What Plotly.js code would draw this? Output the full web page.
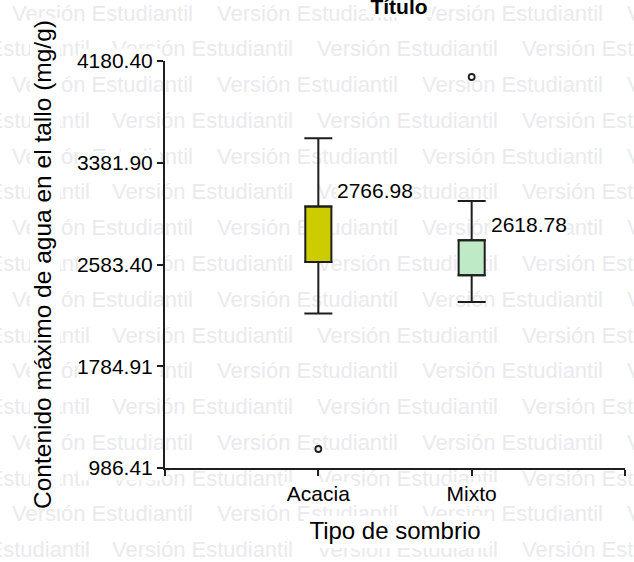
<!DOCTYPE html>
<html><head><meta charset="utf-8">
<script src="https://cdn.plot.ly/plotly-3.0.1.min.js"></script>
<style>html,body{margin:0;padding:0;background:#fff}#chart{width:634px;height:562px}</style>
</head><body><div id="chart"></div>
<script>
// ---- data ----
const categories = ['Acacia', 'Mixto'];
const lowerWhisker = [2197.9, 2289.0];
const q1 = [2603.0, 2498.8];
const median = [2766.98, 2618.78];
const q3 = [3039.5, 2773.1];
const upperWhisker = [3574.7, 3081.0];
const outliers = [[1135.4], [4055.0]];
const yTickVals = [986.41, 1784.91, 2583.40, 3381.90, 4180.40];
const yTickText = ['986.41', '1784.91', '2583.40', '3381.90', '4180.40'];
const titleText = 'Título';
const xTitle = 'Tipo de sombrio';
const yTitle = 'Contenido máximo de agua en el tallo (mg/g)';
const watermarkText = 'Versión Estudiantil';

// ---- styling ----
const boxColors = ['#cccc00', '#bfeac6'];
const FONT = 'Liberation Sans, Arial, sans-serif';
const INK = '#1e1e1e';
const W = 634, H = 562;
const plotL = 165, plotR = 625, plotT = 61, plotB = 468;

const xPos = categories.map((c, i) => i);
const xTickVals = [-1].concat(xPos, [categories.length]);
const xTickText = [''].concat(categories, ['']);

// watermark layout (decoration, pixel coordinates)
const wmX = [], wmY = [], wmT = [], wmP = [];
for (let k = 0; k < 16; k++) {
  const y = 15 + 35.78 * k;
  if (k % 2 === 1) { wmX.push(90); wmY.push(y); wmT.push(watermarkText); wmP.push('middle left'); }
  const starts = (k % 2 === 0) ? [12, 217, 422, 627] : [112, 317, 522];
  starts.forEach(x => { wmX.push(x); wmY.push(y); wmT.push(watermarkText); wmP.push('middle right'); });
}
// white areas behind labels (decoration, pixel coordinates)
const rects = [
  [30, 18, 60, 507],
  [366, 0, 432, 17],
  [285, 482, 354, 506], [448, 482, 499, 506],
  [304, 516, 490, 548]
];
[60.7, 163.3, 265, 366.7, 468.3].forEach(y => rects.push([78, y - 12, 160, y + 12]));
const rx = [], ry = [];
rects.forEach(r => { rx.push(r[0], r[2], r[2], r[0], r[0], null); ry.push(r[1], r[1], r[3], r[3], r[1], null); });

const traces = [
  { type: 'scatter', mode: 'text', x: wmX, y: wmY, text: wmT, textposition: wmP,
    textfont: { family: FONT, size: 22, color: '#eaeaee' }, xaxis: 'x', yaxis: 'y', hoverinfo: 'skip', cliponaxis: false },
  { type: 'scatter', mode: 'lines', x: rx, y: ry, fill: 'toself', fillcolor: '#ffffff',
    line: { width: 0, color: 'rgba(0,0,0,0)' }, xaxis: 'x', yaxis: 'y', hoverinfo: 'skip' },
  // boxes
  { type: 'bar', x: xPos, base: q1, y: q3.map((v, i) => v - q1[i]), width: 0.17,
    marker: { color: boxColors, line: { color: INK, width: 2 } }, xaxis: 'x2', yaxis: 'y2', hoverinfo: 'skip' },
  // upper whiskers
  { type: 'scatter', mode: 'markers', x: xPos, y: q3, marker: { size: 1, opacity: 0 },
    error_y: { type: 'data', symmetric: false, array: upperWhisker.map((v, i) => v - q3[i]), arrayminus: q3.map(() => 0),
      width: 14, thickness: 2, color: INK }, xaxis: 'x2', yaxis: 'y2', hoverinfo: 'skip' },
  // lower whiskers
  { type: 'scatter', mode: 'markers', x: xPos, y: q1, marker: { size: 1, opacity: 0 },
    error_y: { type: 'data', symmetric: false, array: q1.map(() => 0), arrayminus: lowerWhisker.map((v, i) => q1[i] - v),
      width: 14, thickness: 2, color: INK }, xaxis: 'x2', yaxis: 'y2', hoverinfo: 'skip' },
  // outliers
  { type: 'scatter', mode: 'markers',
    x: outliers.flatMap((arr, i) => arr.map(() => xPos[i])), y: outliers.flat(),
    marker: { symbol: 'circle-open', size: 6, color: INK, line: { width: 1.8, color: INK } },
    xaxis: 'x2', yaxis: 'y2', hoverinfo: 'skip' }
];

const annotations = xPos.map((x, i) => ({
  xref: 'x2', yref: 'y2', x: x, y: q3[i], text: median[i].toFixed(2), showarrow: false,
  xanchor: 'left', yanchor: 'middle', xshift: 18, yshift: 16,
  font: { family: FONT, size: 21, color: '#000' }, bgcolor: '#ffffff', borderpad: 0
}));

const axisCommon = {
  showline: true, linecolor: INK, linewidth: 2, ticks: 'outside', ticklen: 6, tickwidth: 2, tickcolor: INK,
  showgrid: false, zeroline: false, tickfont: { family: FONT, size: 21, color: '#000' }, fixedrange: true
};

const layout = {
  width: W, height: H, margin: { l: 0, r: 0, t: 0, b: 0 },
  paper_bgcolor: '#ffffff', plot_bgcolor: 'rgba(0,0,0,0)', showlegend: false, hovermode: false,
  font: { family: FONT, color: '#000' },
  title: { text: titleText, font: { family: FONT, size: 21, weight: 'bold', color: '#000' },
    x: 399 / W, xanchor: 'center', y: 1 - 7 / H, yanchor: 'middle' },
  xaxis: { domain: [0, 1], range: [0, W], visible: false, fixedrange: true },
  yaxis: { domain: [0, 1], range: [H, 0], visible: false, fixedrange: true },
  xaxis2: Object.assign({}, axisCommon, { domain: [plotL / W, plotR / W], anchor: 'y2', range: [-1, categories.length],
    tickvals: xTickVals, ticktext: xTickText,
    title: { text: xTitle, font: { family: FONT, size: 24, color: '#000' }, standoff: 18 } }),
  yaxis2: Object.assign({}, axisCommon, { domain: [(H - plotB) / H, (H - plotT) / H], anchor: 'x2',
    range: [yTickVals[0], yTickVals[yTickVals.length - 1]], tickvals: yTickVals, ticktext: yTickText,
    title: { text: yTitle, font: { family: FONT, size: 24.5, color: '#000' }, standoff: 18 } }),
  annotations: annotations
};

Plotly.newPlot('chart', traces, layout, { staticPlot: true, displayModeBar: false });
</script>
</body></html>
